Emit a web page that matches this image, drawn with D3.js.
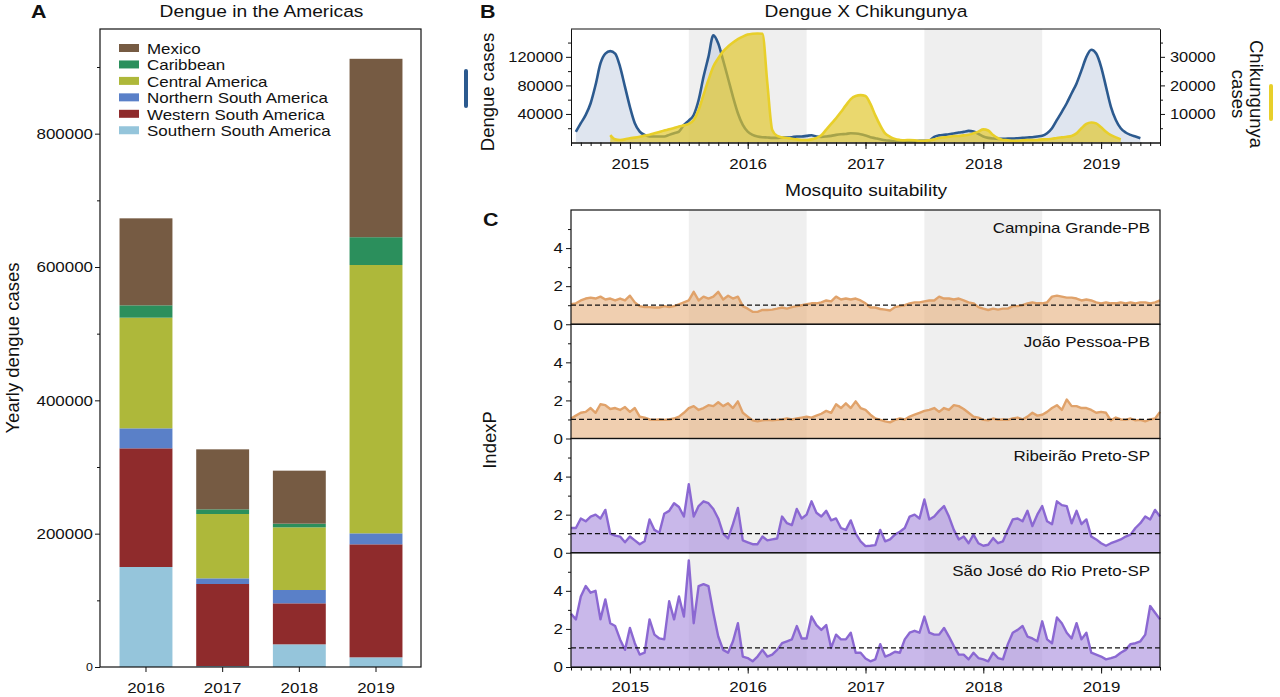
<!DOCTYPE html>
<html>
<head>
<meta charset="utf-8">
<script src="https://cdn.jsdelivr.net/npm/d3@7/dist/d3.min.js"></script>
<style>
html,body{margin:0;padding:0;background:#fff;}
svg{display:block;font-family:"Liberation Sans",Arial,Helvetica,sans-serif;}
</style>
</head>
<body>
<svg id="chart" width="1280" height="697"></svg>
<script>
// ---------------- Panel A data ----------------
const years = ["2016","2017","2018","2019"];
const regionNames = ["Mexico","Caribbean","Central America","Northern South America","Western South America","Southern South America"];
const mexico         = [130500, 90000, 79500, 267600];
const caribbean      = [18500, 7000, 5500, 41700];
const centralAmerica = [166000, 96500, 94000, 402500];
const northernSA     = [30000, 8500, 20000, 16500];
const westernSA      = [178000, 123000, 61500, 169500];
const southernSA     = [150000, 1500, 34000, 14500];
const yTicksA = [0, 200000, 400000, 600000, 800000];

// ---------------- Panel B data (half-monthly samples, index i -> 2014.5 + i/24) ----------------
const sampleStartYear = 2014.5;
const samplesPerYear = 24;
const dengueStartIndex = 1;
const dengueCases = [15000, 27000, 38600, 55000, 80500, 110700, 124600, 128000, 124600, 106000,
  78000, 50000, 27000, 15300, 10700, 8400, 8400, 8400, 8400, 10700,
  13000, 15300, 24600, 30700, 38600, 59500, 92000, 120000, 150000, 138600,
  115000, 89700, 64000, 41000, 24600, 15300, 10700, 8400, 7400, 7000,
  6500, 6500, 7000, 7000, 7400, 8400, 8400, 9300, 10200, 8400,
  7900, 8400, 9300, 10700, 11600, 12000, 13000, 12500, 11500, 9800,
  7500, 6000, 4500, 3200, 2500, 2000, 1900, 1900, 1900, 1900,
  2300, 2300, 2800, 8000, 10000, 10800, 11500, 12500, 14000, 14900,
  16300, 15300, 12000, 8400, 6500, 5600, 5100, 5100, 5600, 5600,
  6000, 6500, 7000, 7400, 8400, 9300, 13000, 20000, 31600, 43000,
  55000, 69000, 82800, 101000, 120000, 130000, 124600, 106000, 78000, 50000,
  31600, 20000, 14000, 10700, 8400, 6000];
const chikStartIndex = 8;
const chikCases = [2600, 1100, 900, 1100, 1500, 1700, 2000, 2400, 2700, 3200,
  3700, 4200, 4600, 5100, 5600, 6000, 6500, 7900, 11400, 16700,
  21900, 26600, 29500, 31900, 33600, 35000, 36200, 37100, 37800, 38100,
  38200, 38100, 20800, 4400, 2300, 1800, 1600, 1300, 1100, 900,
  900, 1100, 1600, 2500, 4500, 6500, 8500, 10700, 13000, 15200,
  16300, 16600, 16300, 13500, 9500, 6000, 3200, 2000, 1200, 900,
  800, 900, 800, 600, 600, 800, 1100, 1600, 1800, 2000,
  2300, 2300, 2500, 2700, 3200, 3800, 4600, 4200, 2600, 1500,
  900, 800, 600, 600, 800, 900, 900, 900, 1100, 1100,
  1300, 1600, 1800, 2000, 2300, 3200, 5000, 6500, 7000, 6700,
  5300, 3800, 2600, 1800, 1100];
const dengueTicks = [40000, 80000, 120000];
const dengueMinorTicks = [20000, 60000, 100000, 140000];
const chikTicks = [10000, 20000, 30000];
const chikMinorTicks = [5000, 15000, 25000, 35000];
const yearLabels = [2015, 2016, 2017, 2018, 2019];
const shadedPeriods = [[2015.5, 2016.5], [2017.5, 2018.5]];

// ---------------- Panel C data (IndexP, same half-monthly grid, i = 0..120) ----------------
const cityNames = ["Campina Grande-PB", "João Pessoa-PB", "Ribeirão Preto-SP", "São José do Rio Preto-SP"];
const campinaGrande = [1.05, 1.1, 1.25, 1.35, 1.4, 1.35, 1.45, 1.3, 1.35, 1.25,
  1.35, 1.25, 1.5, 1.15, 0.95, 0.9, 0.9, 0.88, 0.88, 0.95,
  0.9, 0.95, 1.05, 1.15, 1.25, 1.7, 1.25, 1.45, 1.35, 1.45,
  1.7, 1.3, 1.5, 1.35, 1.45, 0.95, 0.82, 0.65, 0.65, 0.75,
  0.75, 0.77, 0.82, 0.88, 0.82, 0.9, 0.95, 1.0, 1.05, 1.1,
  1.1, 1.15, 1.25, 1.2, 1.45, 1.3, 1.35, 1.3, 1.35, 1.25,
  1.1, 0.88, 0.88, 0.8, 0.77, 0.72, 0.9, 0.95, 1.0, 1.1,
  1.15, 1.15, 1.2, 1.25, 1.25, 1.45, 1.35, 1.35, 1.3, 1.35,
  1.25, 1.15, 1.1, 0.9, 0.82, 0.75, 0.82, 0.77, 0.82, 0.82,
  0.95, 0.95, 1.0, 1.1, 1.15, 1.1, 1.1, 1.15, 1.45, 1.5,
  1.45, 1.4, 1.4, 1.35, 1.25, 1.3, 1.25, 1.15, 1.1, 1.15,
  1.1, 1.1, 1.15, 1.1, 1.15, 1.1, 1.15, 1.15, 1.1, 1.15, 1.25];
const joaoPessoa = [1.05, 1.2, 1.35, 1.4, 1.6, 1.35, 1.8, 1.75, 1.55, 1.6,
  1.5, 1.65, 1.4, 1.6, 1.15, 1.1, 1.0, 0.98, 1.0, 0.98,
  1.0, 1.05, 1.15, 1.35, 1.6, 1.7, 1.5, 1.6, 1.75, 1.7,
  1.9, 1.7, 1.85, 1.6, 1.95, 1.35, 1.15, 0.95, 0.9, 0.95,
  0.98, 0.95, 0.98, 1.0, 1.05, 1.0, 1.05, 1.1, 1.15, 1.1,
  1.2, 1.3, 1.45, 1.35, 1.8, 1.6, 1.85, 1.6, 1.95, 1.6,
  1.5, 1.25, 1.05, 0.98, 0.9, 0.85, 0.98, 1.05, 1.0, 1.15,
  1.25, 1.35, 1.45, 1.5, 1.6, 1.4, 1.6, 1.5, 1.75, 1.7,
  1.55, 1.35, 1.15, 1.1, 0.98, 0.95, 1.05, 0.98, 1.0, 0.98,
  1.05, 1.1, 1.0, 1.15, 1.35, 1.2, 1.25, 1.4, 1.6, 1.75,
  1.5, 2.05, 1.7, 1.7, 1.6, 1.6, 1.5, 1.35, 1.4, 1.35,
  0.95, 1.1, 1.0, 0.98, 1.05, 0.95, 0.98, 0.9, 1.0, 1.05, 1.4];
const ribeiraoPreto = [1.3, 1.3, 1.8, 1.65, 1.9, 2.0, 1.8, 2.25, 1.0, 0.9,
  0.85, 0.55, 0.85, 0.65, 0.45, 0.6, 1.75, 1.2, 1.05, 2.05,
  2.2, 2.6, 2.4, 1.9, 3.6, 1.9, 2.45, 2.7, 2.6, 2.3,
  1.8, 1.0, 0.75, 1.5, 2.35, 0.65, 0.55, 0.45, 0.45, 0.85,
  0.65, 0.7, 0.75, 1.9, 1.55, 1.45, 2.3, 1.8, 2.0, 2.7,
  2.1, 1.9, 2.2, 1.7, 1.8, 1.3, 1.2, 1.7, 1.0, 0.6,
  0.35, 0.37, 0.4, 1.2, 0.6, 0.7, 0.95, 1.1, 1.3, 1.9,
  2.0, 1.8, 2.8, 1.75, 1.9, 2.2, 2.45, 1.9, 1.2, 0.7,
  0.85, 0.5, 0.95, 0.5, 0.37, 0.42, 0.77, 0.5, 0.6, 1.2,
  1.75, 1.8, 1.65, 2.2, 1.4, 2.0, 2.45, 1.65, 1.5, 2.7,
  2.5, 2.45, 1.55, 2.2, 1.5, 1.75, 0.85, 0.7, 0.5, 0.37,
  0.5, 0.6, 0.7, 0.85, 0.95, 1.3, 1.55, 1.9, 1.75, 2.25, 1.9];
const saoJose = [2.8, 2.5, 3.7, 4.25, 3.9, 4.0, 2.5, 3.55, 2.3, 2.15,
  1.45, 0.9, 2.05, 1.25, 0.65, 0.75, 2.5, 1.7, 1.5, 1.45,
  3.45, 2.5, 3.7, 2.65, 5.6, 2.3, 4.25, 4.35, 4.25, 2.85,
  1.6, 0.9, 0.75, 1.35, 2.3, 0.55, 0.47, 0.3, 0.55, 0.9,
  0.55, 0.65, 0.9, 1.25, 1.35, 1.45, 2.15, 1.5, 1.5, 2.65,
  2.2, 1.95, 2.2, 1.0, 1.7, 1.45, 1.45, 1.8, 0.75, 0.75,
  0.45, 0.3, 0.4, 1.2, 0.55, 0.65, 0.8, 0.75, 1.45, 1.8,
  1.9, 1.8, 2.65, 1.8, 1.7, 1.7, 2.05, 1.6, 1.1, 0.65,
  0.65, 0.4, 0.75, 0.47, 0.4, 0.3, 0.75, 0.47, 0.4, 1.2,
  1.8, 1.95, 2.15, 1.6, 1.5, 1.35, 2.4, 1.45, 1.25, 2.6,
  2.3, 1.8, 1.5, 2.3, 1.45, 1.8, 0.75, 0.65, 0.55, 0.4,
  0.47, 0.55, 0.75, 0.9, 1.2, 1.25, 1.35, 1.7, 3.2, 2.85, 2.5];
const indexTicks = [0, 2, 4];
const indexMinorTicks = [1, 3, 5];

// ================= drawing =================
const svg = d3.select("#chart");
const FONT = "Liberation Sans, Arial, Helvetica, sans-serif";
const TXT = "#111";
const STRETCH = 1.13;

function styleAxis(g, size) {
  g.attr("font-family", FONT).attr("font-size", size);
  g.selectAll("text").attr("fill", TXT);
  g.selectAll("line").attr("stroke", "#111");
  g.selectAll(".domain").attr("stroke", "#111");
}

// ---------- Panel A ----------
const gA = svg.append("g");
const seriesA = {
  "Mexico": mexico, "Caribbean": caribbean, "Central America": centralAmerica,
  "Northern South America": northernSA, "Western South America": westernSA, "Southern South America": southernSA
};
const colorA = d3.scaleOrdinal().domain(regionNames)
  .range(["#765b43", "#2b8f5c", "#aeb83a", "#5a80c8", "#8f2b2c", "#95c5db"]);
const stackOrder = regionNames.slice().reverse();
const rowsA = years.map((y, i) => { const r = { year: y }; regionNames.forEach(n => r[n] = seriesA[n][i]); return r; });
const stackedA = d3.stack().keys(stackOrder)(rowsA);

const xA = d3.scaleBand().domain(years).range([107.65, 414.35]).paddingInner(0.31).paddingOuter(0.155);
const yA = d3.scaleLinear().domain([0, 957000]).range([667, 29]);

gA.selectAll("g.layer").data(stackedA).join("g").attr("class", "layer")
  .attr("fill", d => colorA(d.key))
  .selectAll("rect").data(d => d).join("rect")
  .attr("x", d => xA(d.data.year)).attr("width", xA.bandwidth())
  .attr("y", d => yA(d[1])).attr("height", d => Math.max(0, yA(d[0]) - yA(d[1])));

gA.append("rect").attr("x", 100).attr("y", 29).attr("width", 321).attr("height", 638)
  .attr("fill", "none").attr("stroke", "#111").attr("stroke-width", 1.2);

const axAy = gA.append("g").attr("transform", "translate(100,0)")
  .call(d3.axisLeft(yA).tickValues(yTicksA).tickSize(5).tickSizeOuter(0).tickPadding(2).tickFormat(d3.format("d")));
axAy.select(".domain").remove();
styleAxis(axAy, 15);
axAy.selectAll("text").filter(d => d === 0).attr("font-size", 11);
const axAy2 = gA.append("g").attr("transform", "translate(100,0)")
  .call(d3.axisLeft(yA).tickValues(d3.range(100000, 900001, 200000)).tickSize(3).tickFormat(""));
axAy2.select(".domain").remove();
styleAxis(axAy2, 15);

const axAx = gA.append("g").attr("transform", "translate(0,667)")
  .call(d3.axisBottom(xA).tickSize(5).tickSizeOuter(0).tickPadding(10));
axAx.select(".domain").remove();
styleAxis(axAx, 15);

const legA = gA.append("g");
regionNames.forEach((n, i) => {
  const y = 44 + i * 16.45;
  legA.append("rect").attr("x", 119).attr("y", y).attr("width", 20).attr("height", 8).attr("fill", colorA(n));
  legA.append("text").attr("x", 147).attr("y", y + 10).attr("font-size", 15).attr("fill", TXT).text(n);
});

gA.append("text").attr("x", 261.5).attr("y", 17).attr("text-anchor", "middle").attr("font-size", 17).attr("fill", TXT).text("Dengue in the Americas");
gA.append("text").attr("x", 31).attr("y", 18).attr("font-size", 19).attr("font-weight", "bold").attr("fill", TXT).text("A");
gA.append("text").attr("data-rot", 1).attr("transform", "translate(19,348) rotate(-90)")
  .attr("text-anchor", "middle").attr("font-size", 18.5).attr("fill", TXT).text("Yearly dengue cases");

// ---------- shared time axis ----------
const xT = d3.scaleLinear().domain([2014.5, 2019.5]).range([571, 1160]);
const tOf = i => sampleStartYear + i / samplesPerYear;
const monthTicks = d3.range(0, 61).map(k => sampleStartYear + k / 12);

function timeAxis(g, y, labelPad) {
  const minor = g.append("g").attr("transform", `translate(0,${y})`)
    .call(d3.axisBottom(xT).tickValues(monthTicks).tickSize(3.5).tickSizeOuter(0).tickFormat(""));
  styleAxis(minor, 15);
  const major = g.append("g").attr("transform", `translate(0,${y})`)
    .call(d3.axisBottom(xT).tickValues(yearLabels).tickSize(6.5).tickSizeOuter(0).tickPadding(labelPad).tickFormat(d3.format("d")));
  styleAxis(major, 15);
}

// ---------- Panel B ----------
const gB = svg.append("g");
const bTop = 29, bBot = 142.5;
const yD = d3.scaleLinear().domain([0, 159000]).range([bBot, bTop]);
const yCk = d3.scaleLinear().domain([0, 39750]).range([bBot, bTop]);

gB.selectAll("rect.band").data(shadedPeriods).join("rect").attr("class", "band")
  .attr("x", d => xT(d[0])).attr("width", d => xT(d[1]) - xT(d[0]))
  .attr("y", bTop).attr("height", bBot - bTop).attr("fill", "#efefef");

const dengueData = dengueCases.map((v, k) => ({ t: tOf(dengueStartIndex + k), v }));
const chikData = chikCases.map((v, k) => ({ t: tOf(chikStartIndex + k), v }));

gB.append("path").datum(dengueData)
  .attr("d", d3.area().x(d => xT(d.t)).y0(bBot).y1(d => yD(d.v)).curve(d3.curveMonotoneX))
  .attr("fill", "#bfcbdf").attr("fill-opacity", 0.5);
gB.append("path").datum(dengueData)
  .attr("d", d3.line().x(d => xT(d.t)).y(d => yD(d.v)).curve(d3.curveMonotoneX))
  .attr("fill", "none").attr("stroke", "#2c5a8f").attr("stroke-width", 2.6);
gB.append("path").datum(chikData)
  .attr("d", d3.area().x(d => xT(d.t)).y0(bBot).y1(d => yCk(d.v)).curve(d3.curveMonotoneX))
  .attr("fill", "#e0c62a").attr("fill-opacity", 0.68);
gB.append("path").datum(chikData)
  .attr("d", d3.line().x(d => xT(d.t)).y(d => yCk(d.v)).curve(d3.curveMonotoneX))
  .attr("fill", "none").attr("stroke", "#e8cf2a").attr("stroke-width", 2.6);

gB.append("line").attr("x1", 571).attr("x2", 1160).attr("y1", bTop).attr("y2", bTop)
  .attr("stroke", "#111").attr("stroke-width", 1.2);
const axBL = gB.append("g").attr("transform", "translate(571,0)")
  .call(d3.axisLeft(yD).tickValues(dengueTicks).tickSize(5).tickSizeOuter(0).tickPadding(3).tickFormat(d3.format("d")));
styleAxis(axBL, 14.5);
const axBL2 = gB.append("g").attr("transform", "translate(571,0)")
  .call(d3.axisLeft(yD).tickValues(dengueMinorTicks).tickSize(3).tickSizeOuter(0).tickFormat(""));
styleAxis(axBL2, 14.5);
const axBR = gB.append("g").attr("transform", "translate(1160,0)")
  .call(d3.axisRight(yCk).tickValues(chikTicks).tickSize(5).tickSizeOuter(0).tickPadding(5).tickFormat(d3.format("d")));
styleAxis(axBR, 14.5);
const axBR2 = gB.append("g").attr("transform", "translate(1160,0)")
  .call(d3.axisRight(yCk).tickValues(chikMinorTicks).tickSize(3).tickSizeOuter(0).tickFormat(""));
styleAxis(axBR2, 14.5);
timeAxis(gB, bBot, 9);

gB.append("text").attr("x", 480).attr("y", 18).attr("font-size", 19).attr("font-weight", "bold").attr("fill", TXT).text("B");
gB.append("text").attr("x", 866).attr("y", 17).attr("text-anchor", "middle").attr("font-size", 17).attr("fill", TXT).text("Dengue X Chikungunya");
gB.append("text").attr("x", 866).attr("y", 196).attr("text-anchor", "middle").attr("font-size", 17).attr("fill", TXT).text("Mosquito suitability");
gB.append("text").attr("data-rot", 1).attr("transform", "translate(494,92) rotate(-90)")
  .attr("text-anchor", "middle").attr("font-size", 18.5).attr("fill", TXT).text("Dengue cases");
const chikLabel = gB.append("text").attr("data-rot", 1).attr("transform", "translate(1250,94) rotate(90)")
  .attr("text-anchor", "middle").attr("font-size", 18.5).attr("fill", TXT);
chikLabel.append("tspan").attr("x", 0).attr("dy", 0).text("Chikungunya");
chikLabel.append("tspan").attr("x", 0).attr("dy", 18).text("cases");
gB.append("line").attr("x1", 466).attr("x2", 466).attr("y1", 71).attr("y2", 106)
  .attr("stroke", "#2c5a8f").attr("stroke-width", 4).attr("stroke-linecap", "round");
gB.append("line").attr("x1", 1271).attr("x2", 1271).attr("y1", 86).attr("y2", 119)
  .attr("stroke", "#e8cf2a").attr("stroke-width", 4).attr("stroke-linecap", "round");

// ---------- Panel C ----------
const gC = svg.append("g");
const cTop = 210, cH = 114.25, cBot = cTop + 4 * cH;
gC.selectAll("rect.band").data(shadedPeriods).join("rect").attr("class", "band")
  .attr("x", d => xT(d[0])).attr("width", d => xT(d[1]) - xT(d[0]))
  .attr("y", cTop).attr("height", cBot - cTop).attr("fill", "#efefef");

const citySeries = [campinaGrande, joaoPessoa, ribeiraoPreto, saoJose];
const cityStyles = [
  { line: "#e0a26a", fill: "#e6af7b" }, { line: "#e0a26a", fill: "#e6af7b" },
  { line: "#8b68d2", fill: "#a589dc" }, { line: "#8b68d2", fill: "#a589dc" }
];
citySeries.forEach((vals, k) => {
  const top = cTop + k * cH, bot = top + cH;
  const y = d3.scaleLinear().domain([0, 6]).range([bot, top]);
  const data = vals.map((v, i) => ({ t: tOf(i), v }));
  const g = gC.append("g");
  g.append("path").datum(data)
    .attr("d", d3.area().x(d => xT(d.t)).y0(bot).y1(d => y(d.v)))
    .attr("fill", cityStyles[k].fill).attr("fill-opacity", 0.6);
  g.append("path").datum(data)
    .attr("d", d3.line().x(d => xT(d.t)).y(d => y(d.v)))
    .attr("fill", "none").attr("stroke", cityStyles[k].line).attr("stroke-width", 2.4).attr("stroke-linejoin", "round");
  g.append("line").attr("x1", xT(2014.5)).attr("x2", xT(2019.5)).attr("y1", y(1)).attr("y2", y(1))
    .attr("stroke", "#111").attr("stroke-width", 1.3).attr("stroke-dasharray", "5,3");
  g.append("rect").attr("x", 571).attr("y", top).attr("width", 589).attr("height", cH)
    .attr("fill", "none").attr("stroke", "#111").attr("stroke-width", 1.2);
  const ax = g.append("g").attr("transform", "translate(571,0)")
    .call(d3.axisLeft(y).tickValues(indexTicks).tickSize(5).tickSizeOuter(0).tickPadding(3).tickFormat(d3.format("d")));
  ax.select(".domain").remove();
  styleAxis(ax, 15);
  const ax2 = g.append("g").attr("transform", "translate(571,0)")
    .call(d3.axisLeft(y).tickValues(indexMinorTicks).tickSize(3).tickSizeOuter(0).tickFormat(""));
  ax2.select(".domain").remove();
  styleAxis(ax2, 15);
  g.append("text").attr("x", 1150).attr("y", top + 23).attr("text-anchor", "end")
    .attr("font-size", 15).attr("fill", TXT).text(cityNames[k]);
});
timeAxis(gC, cBot, 8);
gC.append("text").attr("x", 483).attr("y", 226).attr("font-size", 19).attr("font-weight", "bold").attr("fill", TXT).text("C");
gC.append("text").attr("data-rot", 1).attr("transform", "translate(496,440) rotate(-90)")
  .attr("text-anchor", "middle").attr("font-size", 18.5).attr("fill", TXT).text("IndexP");

// horizontal stretch of horizontal texts (reference glyphs are wider)
svg.selectAll("text").each(function () {
  if (this.hasAttribute("data-rot")) return;
  const x = +this.getAttribute("x") || 0;
  const t = this.getAttribute("transform") || "";
  this.setAttribute("transform", `${t} translate(${x * (1 - STRETCH)},0) scale(${STRETCH},1)`.trim());
});
</script>
</body>
</html>
